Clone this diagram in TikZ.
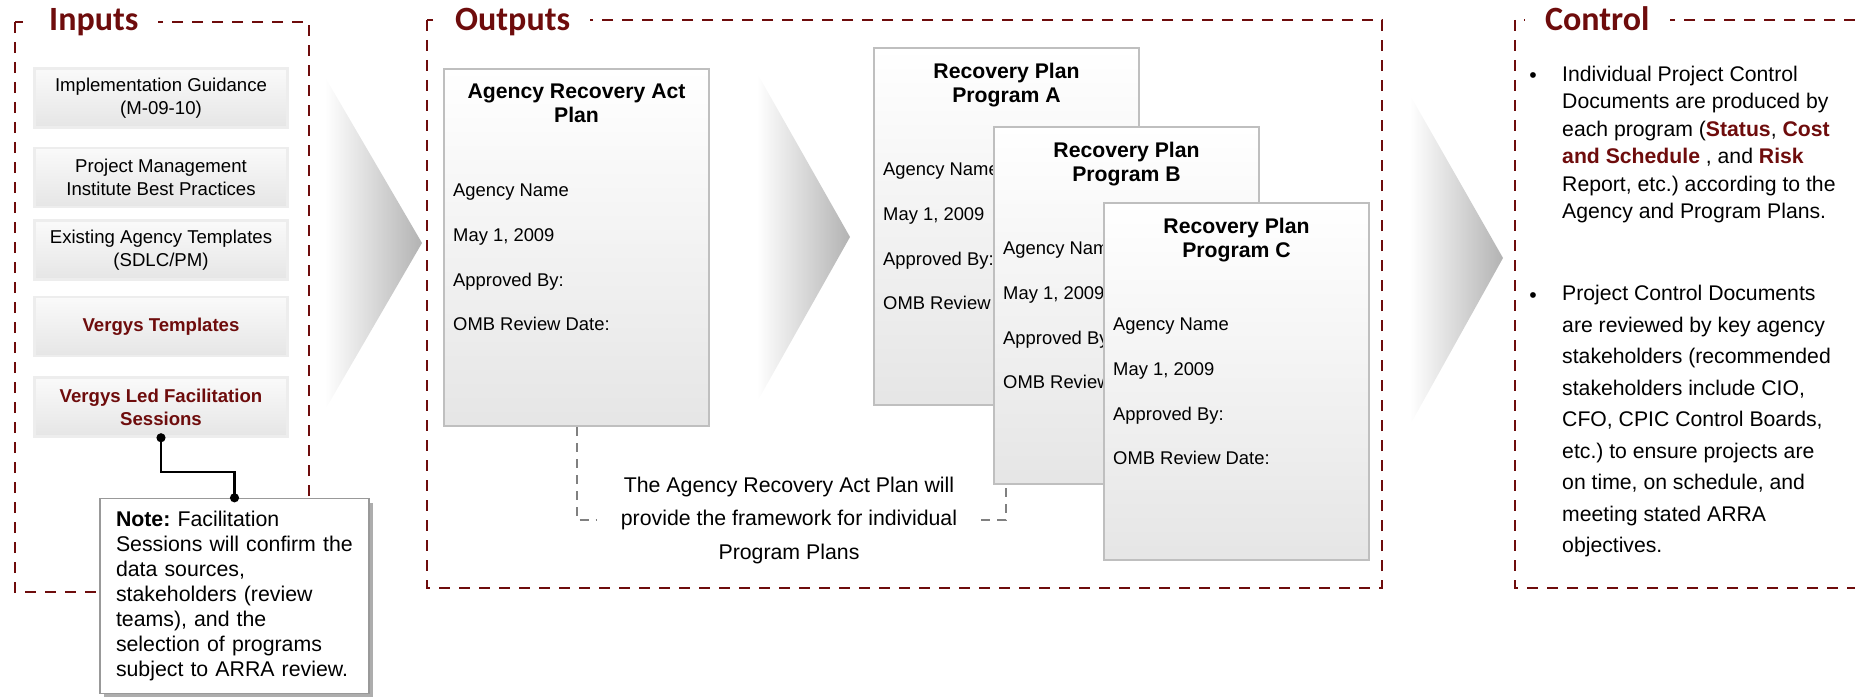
\documentclass[tikz,border=0pt]{standalone}
\usepackage{fontspec}
\setmainfont{Liberation Sans}
\newfontfamily\headfont{Carlito}
\usetikzlibrary{positioning,calc,shadows,arrows.meta}
\definecolor{vmaroon}{RGB}{110,12,12}
\definecolor{linkgray}{RGB}{128,128,128}
\newcommand{\hl}[1]{\textcolor{vmaroon}{\bfseries #1}}
\newcommand{\plandoc}[4]{%
  \node[docbox] (#1) at (#2,#3) {};
  \node[doctitle] (#1-t) at ($(#1.north)+(0,16)$) {#4};
  \foreach \txt [count=\i] in {Agency Name,{May 1, 2009},Approved By:,OMB Review Date:}
    \node[docline] (#1-\i) at ($(#1.north west)+(10,84+44.7*\i)$) {\txt};
}
\frenchspacing

\begin{document}
\begin{tikzpicture}[x=1pt,y=-1pt,
    frame/.style={draw=vmaroon,line width=2.5pt,dash pattern=on 11pt off 9pt},
    head/.style={fill=white,text=vmaroon,inner xsep=20pt,inner ysep=1pt,anchor=base west,
      font=\headfont\bfseries\fontsize{34}{38}\selectfont},
    chevron/.style={left color=white,right color=black!30},
    inbox/.style={draw=black!7,line width=2.5pt,top color=black!2,bottom color=black!10,
      minimum width=253pt,minimum height=59pt,align=center,font=\fontsize{18.6}{23}\selectfont},
    docbox/.style={draw=black!25,line width=2pt,top color=white,bottom color=black!10,
      minimum width=265pt,minimum height=357pt,anchor=north west,inner sep=0pt},
    doctitle/.style={anchor=north,inner sep=0pt,align=center,font=\bfseries\fontsize{21.2}{24}\selectfont},
    docline/.style={anchor=base west,inner sep=0pt,font=\fontsize{18.4}{22}\selectfont},
    notebox/.style={draw=black!40,line width=1.5pt,fill=white,
      drop shadow={shadow xshift=4pt,shadow yshift=-4pt,fill=black!40,opacity=0.8},
      text width=237pt,inner xsep=16pt,inner ysep=12.5pt,align=left,font=\fontsize{21.3}{25}\selectfont},
    notelink/.style={draw=black,line width=2.2pt,{Circle[length=9pt]}-{Circle[length=9pt]},
      shorten <=-4.5pt,shorten >=-4.5pt},
    framelink/.style={draw=linkgray,line width=2pt,dash pattern=on 9pt off 7pt},
    frametext/.style={align=center,inner xsep=24pt,inner ysep=2pt,font=\fontsize{21.3}{33.5}\selectfont},
    ctltext/.style={anchor=north west,inner sep=0pt,align=left},
    ctlbullet/.style={inner sep=0pt,font=\fontsize{21.2}{24}\selectfont}]
  \useasboundingbox (0,0) rectangle (1855,698);

  \path[chevron] (325,77) -- (422,243) -- (325,410) -- cycle;
  \path[chevron] (757,73) -- (850,237) -- (757,402) -- cycle;
  \path[chevron] (1410,95) -- (1503,258) -- (1410,425) -- cycle;

  \draw[frame] (15,22) rectangle (309,592);
  \draw[frame] (427,20) rectangle (1382,588);
  \draw[frame] (1855,20) -- (1515,20) -- (1515,588) -- (1855,588);
  \node[head] (inputs) at (29,31) {Inputs};
  \node[head] (outputs) at (435,31) {Outputs};
  \node[head] (control) at (1525,31) {Control};

  \node[inbox] (in1) at (161,98) {Implementation Guidance\\(M-09-10)};
  \node[inbox] (in2) [below=18pt of in1] {Project Management\\Institute Best Practices};
  \node[inbox] (in3) [below=11pt of in2] {Existing Agency Templates\\(SDLC/PM)};
  \node[inbox] (in4) [below=15pt of in3] {\hl{Vergys Templates}};
  \node[inbox] (in5) [below=19pt of in4] {\hl{Vergys Led Facilitation}\\\hl{Sessions}};

  \node[notebox] (note) at (234.5,596) {\textbf{Note:} Facilitation\\Sessions will confirm the\\data sources,\\stakeholders (review\\teams), and the\\selection of programs\\subject to ARRA review.};
  \draw[notelink] (in5.south) -- ++(0,34) -| (note.north);

  \plandoc{arap}{443}{68}{Agency Recovery Act\\Plan}
  \plandoc{pla}{873}{47}{Recovery Plan\\Program A}
  \plandoc{plb}{993}{126}{Recovery Plan\\Program B}
  \plandoc{plc}{1103}{202}{Recovery Plan\\Program C}

  \node[frametext] (frame) at (789,520) {The Agency Recovery Act Plan will\\provide the framework for individual\\Program Plans};
  \coordinate (plb-foot) at ($(plb.south west)+(13,0)$);
  \draw[framelink] (arap.south) |- (frame.west);
  \draw[framelink] (frame.east) -| (plb-foot);

  \node[ctlbullet] (dot1) at (1533,78) {\textbullet};
  \node[ctltext,font=\fontsize{21.2}{27.4}\selectfont] (ctl1) at (1562,66) {Individual Project Control\\Documents are produced by\\each program (\hl{Status}, \hl{Cost}\\\hl{and Schedule} , and \hl{Risk}\\Report, etc.) according to the\\Agency and Program Plans.};
  \node[ctlbullet] (dot2) at (1533,298) {\textbullet};
  \node[ctltext,font=\fontsize{21.2}{31.5}\selectfont] (ctl2) at (1562,285) {Project Control Documents\\are reviewed by key agency\\stakeholders (recommended\\stakeholders include CIO,\\CFO, CPIC Control Boards,\\etc.) to ensure projects are\\on time, on schedule, and\\meeting stated ARRA\\objectives.};
\end{tikzpicture}
\end{document}
